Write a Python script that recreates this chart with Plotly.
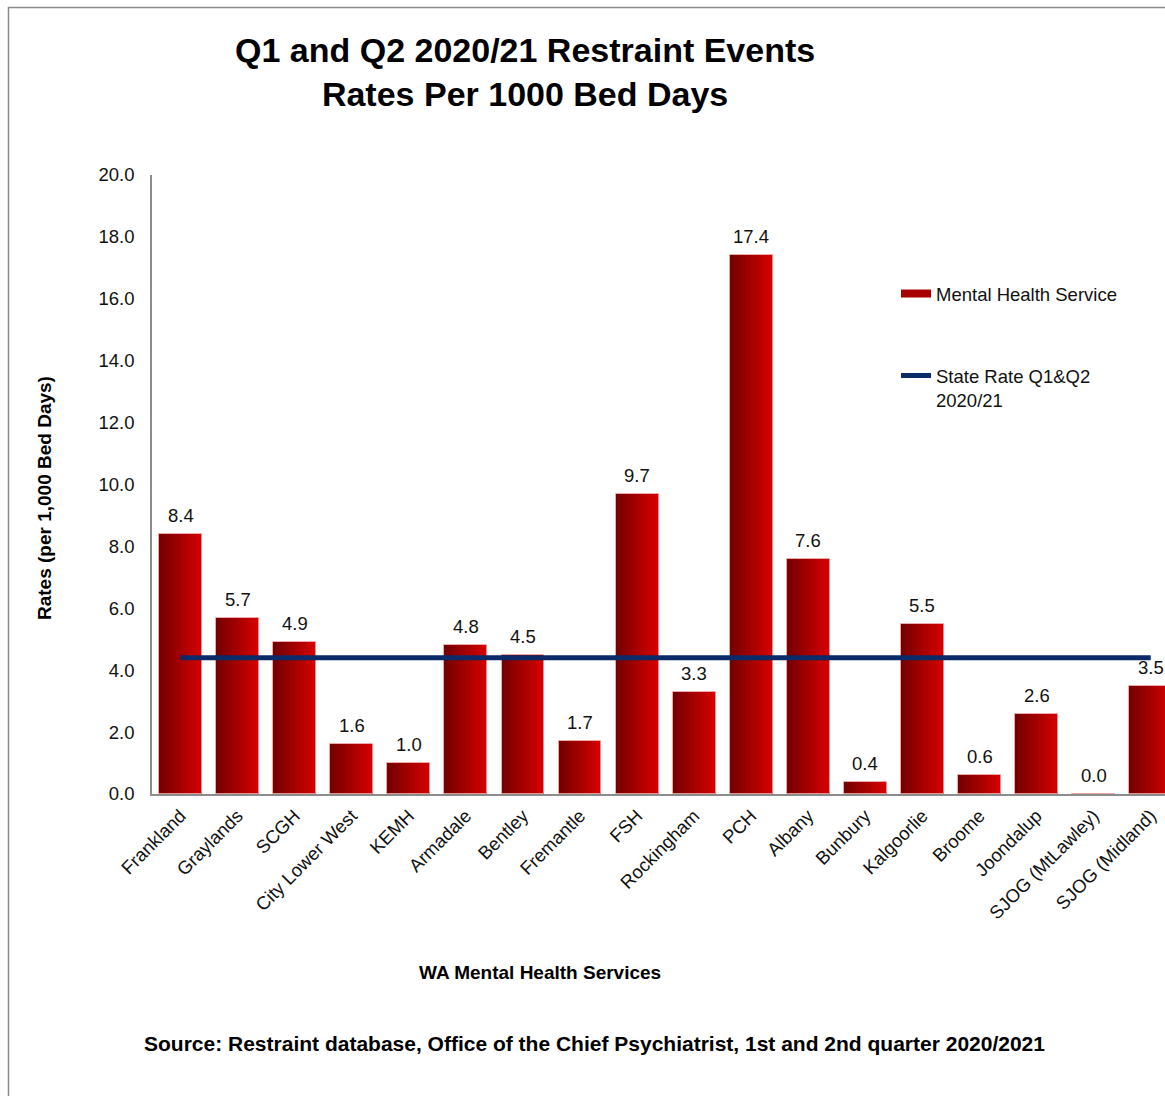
import plotly.graph_objects as go

# WA mental health services and their restraint event rates (per 1000 bed days)
services = ["Frankland", "Graylands", "SCGH", "City Lower West", "KEMH", "Armadale",
            "Bentley", "Fremantle", "FSH", "Rockingham", "PCH", "Albany", "Bunbury",
            "Kalgoorlie", "Broome", "Joondalup", "SJOG (MtLawley)", "SJOG (Midland)"]
rates = [8.4, 5.7, 4.9, 1.6, 1.0, 4.8, 4.5, 1.7, 9.7, 3.3, 17.4, 7.6, 0.4, 5.5, 0.6, 2.6, 0.0, 3.5]
state_rate = 4.4

FONT = "Liberation Sans, Arial, sans-serif"
TXT = 18.5
W, H = 1165, 1096
L, R, T, B = 152, 0, 175, 1096 - 794
PW, PH = W - L - R, H - T - B

def px_x(px):
    return (px - L) / PW

def px_y(py):
    return (H - B - py) / PH

fig = go.Figure()

# fake a left-to-right gradient on the bars: stacked slices, each one running to the bar's right edge
bar_w = 0.75
n_slices = 16
dark, bright = (118, 0, 0), (214, 0, 0)
for i in range(n_slices):
    f = i / (n_slices - 1)
    c = tuple(int(dark[k] + (bright[k] - dark[k]) * f) for k in range(3))
    left = -bar_w / 2 + i * bar_w / n_slices
    fig.add_trace(go.Bar(
        x=services, y=rates,
        width=bar_w / 2 - left, offset=left,
        marker=dict(color="rgb(%d,%d,%d)" % c, line_width=0),
        showlegend=False, hoverinfo="skip",
    ))

# thin light edge round each bar
fig.add_trace(go.Bar(
    x=services, y=rates, width=bar_w, offset=-bar_w / 2,
    marker=dict(color="rgba(0,0,0,0)", line=dict(color="rgba(235,160,160,0.9)", width=1)),
    showlegend=False,
    hovertemplate="%{x}: %{y:.1f}<extra></extra>",
))

# legend stand-in for the bars (wide red swatch like the original)
fig.add_trace(go.Scatter(
    x=[None], y=[None], mode="lines",
    line=dict(color="#A80000", width=8),
    name="Mental Health Service", legend="legend",
))

fig.add_trace(go.Scatter(
    x=services, y=[state_rate] * len(services), mode="lines",
    line=dict(color="#0B2A68", width=5),
    name="State Rate Q1&Q2<br>2020/21", legend="legend2",
    hovertemplate="State rate: %{y:.1f}<extra></extra>",
))

annotations = [
    dict(x=s, y=v, text=f"{v:.1f}", showarrow=False, yanchor="bottom", yshift=6,
         font=dict(size=TXT, color="#111"))
    for s, v in zip(services, rates)
]

annotations += [
    dict(text="<b>Q1 and Q2 2020/21 Restraint Events<br>Rates Per 1000 Bed Days</b>",
         xref="paper", yref="paper", x=px_x(525), y=px_y(72), showarrow=False,
         xanchor="center", yanchor="middle", font=dict(size=34, color="#000")),
    dict(text="<b>Rates (per 1,000 Bed Days)</b>", textangle=-90,
         xref="paper", yref="paper", x=px_x(44), y=px_y(498), showarrow=False,
         xanchor="center", yanchor="middle", font=dict(size=19, color="#000")),
    dict(text="<b>WA Mental Health Services</b>",
         xref="paper", yref="paper", x=px_x(540), y=px_y(973), showarrow=False,
         xanchor="center", yanchor="middle", font=dict(size=19, color="#000")),
    dict(text="<b>Source: Restraint database, Office of the Chief Psychiatrist, 1st and 2nd quarter 2020/2021</b>",
         xref="paper", yref="paper", x=px_x(594), y=px_y(1043), showarrow=False,
         xanchor="center", yanchor="middle", font=dict(size=21, color="#000")),
]

fig.update_layout(
    width=W, height=H,
    margin=dict(l=L, r=R, t=T, b=B),
    paper_bgcolor="white", plot_bgcolor="white",
    font=dict(family=FONT, size=TXT, color="#000"),
    barmode="overlay", bargap=0,
    annotations=annotations,
    legend=dict(x=px_x(896), y=px_y(294), xanchor="left", yanchor="middle",
                bgcolor="rgba(0,0,0,0)", font=dict(size=TXT, color="#111")),
    legend2=dict(x=px_x(896), y=px_y(357), xanchor="left", yanchor="top", valign="top",
                 bgcolor="rgba(0,0,0,0)", font=dict(size=TXT, color="#111")),
    shapes=[dict(type="rect", xref="paper", yref="paper",
                 x0=px_x(8.5), y0=px_y(7.5), x1=px_x(1200), y1=px_y(1120),
                 line=dict(color="#8c8c8c", width=1.5), fillcolor="rgba(0,0,0,0)", layer="below")],
)

fig.update_xaxes(
    type="category", range=[-0.5, 17.25],
    showline=True, linecolor="#8c8c8c", linewidth=1.5,
    showgrid=False, ticks="", tickangle=-45, ticklabelstandoff=2,
    tickfont=dict(size=TXT, color="#111"),
)
fig.update_yaxes(
    range=[0, 20], dtick=2, tickformat=".1f",
    showline=True, linecolor="#8c8c8c", linewidth=1.5,
    showgrid=False, zeroline=False, ticks="", ticklabelstandoff=12,
    tickfont=dict(size=TXT, color="#111"),
)

# drop the browser's default body margin so the figure fills the window exactly
fig.write_html("out.html", config={"displayModeBar": False},
               post_script="document.body.style.margin='0';document.body.style.overflow='hidden';")
